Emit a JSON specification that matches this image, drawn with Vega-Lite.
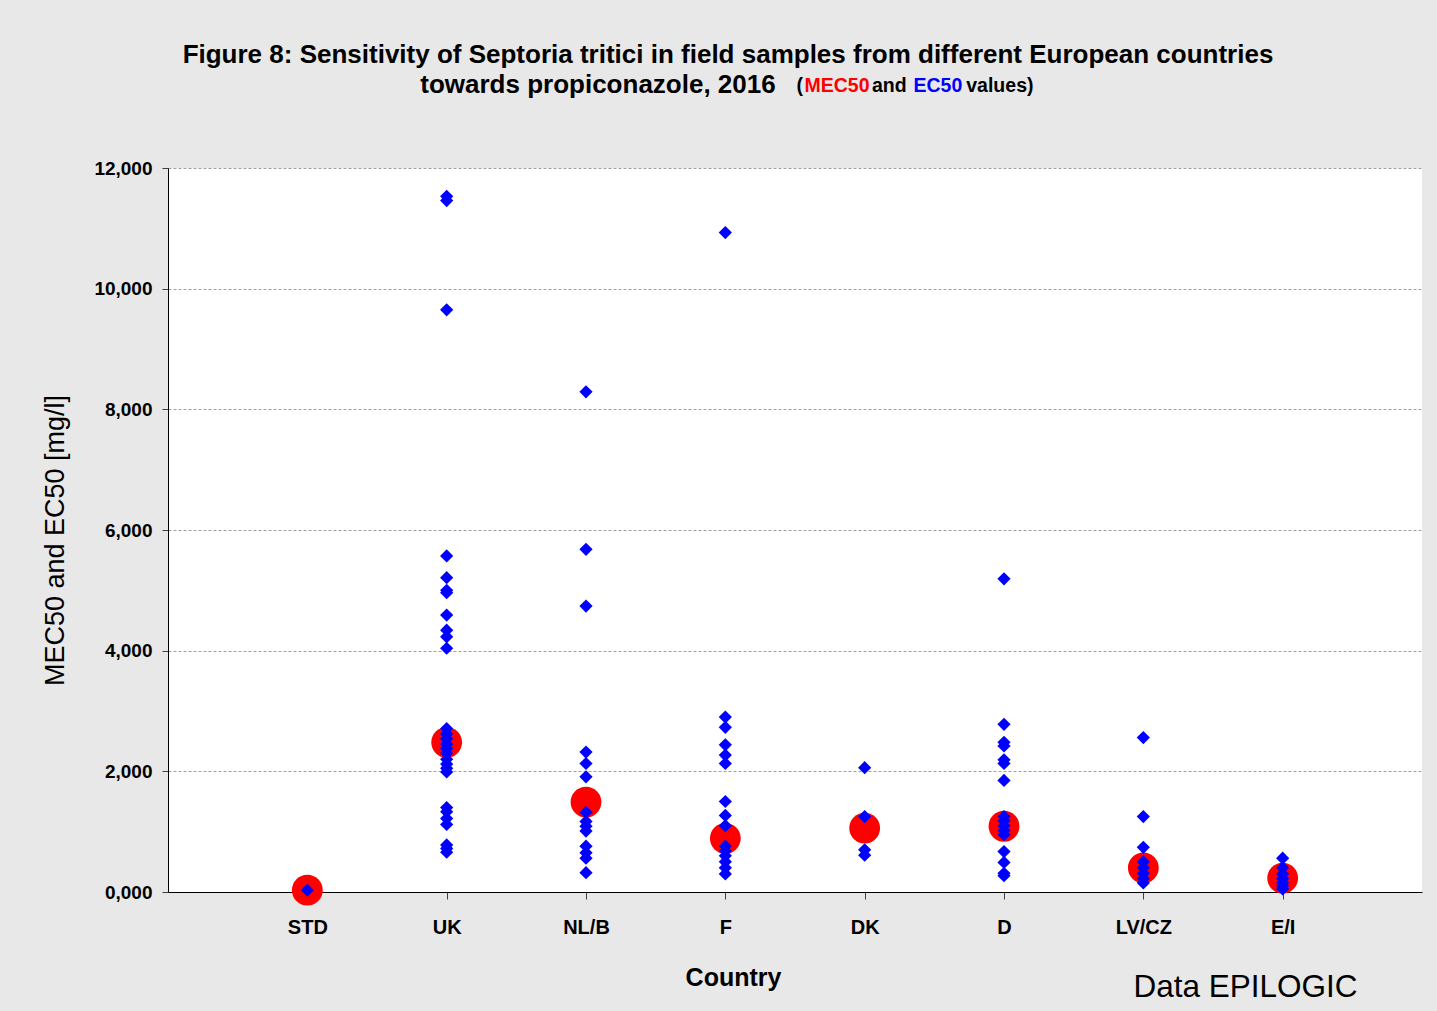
{
  "$schema": "https://vega.github.io/schema/vega-lite/v6.json",
  "width": 1254,
  "height": 724,
  "autosize": {"type": "none"},
  "padding": {"left": 168, "top": 168, "right": 15, "bottom": 119},
  "background": "#e8e8e8",
  "config": {"view": {"fill": "white", "stroke": null}, "font": "Liberation Sans"},
  "title": {
    "text": ["Figure 8: Sensitivity of Septoria tritici in field samples from different European countries", "towards propiconazole, 2016\u00a0\u00a0\u00a0\u00a0\u00a0\u00a0\u00a0\u00a0\u00a0\u00a0\u00a0\u00a0\u00a0\u00a0\u00a0\u00a0\u00a0\u00a0\u00a0\u00a0\u00a0\u00a0\u00a0\u00a0\u00a0\u00a0\u00a0\u00a0\u00a0\u00a0\u00a0\u00a0\u00a0\u00a0\u00a0\u00a0\u200b"],
    "font": "Liberation Sans",
    "fontSize": 26,
    "fontWeight": "bold",
    "color": "black",
    "anchor": "middle",
    "frame": "group",
    "dx": -67,
    "offset": -22,
    "lineHeight": 30
  },
  "data": {
    "values": [
      {"country": "STD", "measure": "MEC50", "value": 0.03},
      {"country": "UK", "measure": "MEC50", "value": 2.48},
      {"country": "NL/B", "measure": "MEC50", "value": 1.49},
      {"country": "F", "measure": "MEC50", "value": 0.89},
      {"country": "DK", "measure": "MEC50", "value": 1.06},
      {"country": "D", "measure": "MEC50", "value": 1.09},
      {"country": "LV/CZ", "measure": "MEC50", "value": 0.40},
      {"country": "E/I", "measure": "MEC50", "value": 0.23},
      {"country": "STD", "measure": "EC50", "value": 0.03},
      {"country": "UK", "measure": "EC50", "value": 11.53},
      {"country": "UK", "measure": "EC50", "value": 11.46},
      {"country": "UK", "measure": "EC50", "value": 9.65},
      {"country": "UK", "measure": "EC50", "value": 5.57},
      {"country": "UK", "measure": "EC50", "value": 5.21},
      {"country": "UK", "measure": "EC50", "value": 5.00},
      {"country": "UK", "measure": "EC50", "value": 4.96},
      {"country": "UK", "measure": "EC50", "value": 4.59},
      {"country": "UK", "measure": "EC50", "value": 4.34},
      {"country": "UK", "measure": "EC50", "value": 4.23},
      {"country": "UK", "measure": "EC50", "value": 4.04},
      {"country": "UK", "measure": "EC50", "value": 2.71},
      {"country": "UK", "measure": "EC50", "value": 2.62},
      {"country": "UK", "measure": "EC50", "value": 2.54},
      {"country": "UK", "measure": "EC50", "value": 2.45},
      {"country": "UK", "measure": "EC50", "value": 2.38},
      {"country": "UK", "measure": "EC50", "value": 2.30},
      {"country": "UK", "measure": "EC50", "value": 2.20},
      {"country": "UK", "measure": "EC50", "value": 2.12},
      {"country": "UK", "measure": "EC50", "value": 2.05},
      {"country": "UK", "measure": "EC50", "value": 1.99},
      {"country": "UK", "measure": "EC50", "value": 1.40},
      {"country": "UK", "measure": "EC50", "value": 1.33},
      {"country": "UK", "measure": "EC50", "value": 1.22},
      {"country": "UK", "measure": "EC50", "value": 1.12},
      {"country": "UK", "measure": "EC50", "value": 0.78},
      {"country": "UK", "measure": "EC50", "value": 0.72},
      {"country": "UK", "measure": "EC50", "value": 0.66},
      {"country": "NL/B", "measure": "EC50", "value": 8.29},
      {"country": "NL/B", "measure": "EC50", "value": 5.68},
      {"country": "NL/B", "measure": "EC50", "value": 4.74},
      {"country": "NL/B", "measure": "EC50", "value": 2.32},
      {"country": "NL/B", "measure": "EC50", "value": 2.13},
      {"country": "NL/B", "measure": "EC50", "value": 1.91},
      {"country": "NL/B", "measure": "EC50", "value": 1.32},
      {"country": "NL/B", "measure": "EC50", "value": 1.17},
      {"country": "NL/B", "measure": "EC50", "value": 1.09},
      {"country": "NL/B", "measure": "EC50", "value": 1.01},
      {"country": "NL/B", "measure": "EC50", "value": 0.76},
      {"country": "NL/B", "measure": "EC50", "value": 0.65},
      {"country": "NL/B", "measure": "EC50", "value": 0.56},
      {"country": "NL/B", "measure": "EC50", "value": 0.32},
      {"country": "F", "measure": "EC50", "value": 10.93},
      {"country": "F", "measure": "EC50", "value": 2.90},
      {"country": "F", "measure": "EC50", "value": 2.73},
      {"country": "F", "measure": "EC50", "value": 2.44},
      {"country": "F", "measure": "EC50", "value": 2.27},
      {"country": "F", "measure": "EC50", "value": 2.13},
      {"country": "F", "measure": "EC50", "value": 1.50},
      {"country": "F", "measure": "EC50", "value": 1.27},
      {"country": "F", "measure": "EC50", "value": 1.10},
      {"country": "F", "measure": "EC50", "value": 0.76},
      {"country": "F", "measure": "EC50", "value": 0.68},
      {"country": "F", "measure": "EC50", "value": 0.60},
      {"country": "F", "measure": "EC50", "value": 0.50},
      {"country": "F", "measure": "EC50", "value": 0.40},
      {"country": "F", "measure": "EC50", "value": 0.30},
      {"country": "DK", "measure": "EC50", "value": 2.06},
      {"country": "DK", "measure": "EC50", "value": 1.25},
      {"country": "DK", "measure": "EC50", "value": 0.70},
      {"country": "DK", "measure": "EC50", "value": 0.61},
      {"country": "D", "measure": "EC50", "value": 5.19},
      {"country": "D", "measure": "EC50", "value": 2.78},
      {"country": "D", "measure": "EC50", "value": 2.48},
      {"country": "D", "measure": "EC50", "value": 2.42},
      {"country": "D", "measure": "EC50", "value": 2.19},
      {"country": "D", "measure": "EC50", "value": 2.13},
      {"country": "D", "measure": "EC50", "value": 1.85},
      {"country": "D", "measure": "EC50", "value": 1.25},
      {"country": "D", "measure": "EC50", "value": 1.18},
      {"country": "D", "measure": "EC50", "value": 1.10},
      {"country": "D", "measure": "EC50", "value": 1.02},
      {"country": "D", "measure": "EC50", "value": 0.95},
      {"country": "D", "measure": "EC50", "value": 0.67},
      {"country": "D", "measure": "EC50", "value": 0.49},
      {"country": "D", "measure": "EC50", "value": 0.31},
      {"country": "D", "measure": "EC50", "value": 0.27},
      {"country": "LV/CZ", "measure": "EC50", "value": 2.56},
      {"country": "LV/CZ", "measure": "EC50", "value": 1.25},
      {"country": "LV/CZ", "measure": "EC50", "value": 0.74},
      {"country": "LV/CZ", "measure": "EC50", "value": 0.50},
      {"country": "LV/CZ", "measure": "EC50", "value": 0.40},
      {"country": "LV/CZ", "measure": "EC50", "value": 0.31},
      {"country": "LV/CZ", "measure": "EC50", "value": 0.22},
      {"country": "LV/CZ", "measure": "EC50", "value": 0.15},
      {"country": "E/I", "measure": "EC50", "value": 0.56},
      {"country": "E/I", "measure": "EC50", "value": 0.40},
      {"country": "E/I", "measure": "EC50", "value": 0.30},
      {"country": "E/I", "measure": "EC50", "value": 0.22},
      {"country": "E/I", "measure": "EC50", "value": 0.15},
      {"country": "E/I", "measure": "EC50", "value": 0.10},
      {"country": "E/I", "measure": "EC50", "value": 0.05}
    ]
  },
  "layer": [
    {
      "transform": [{"filter": "datum.measure === 'MEC50'"}],
      "mark": {"type": "point", "filled": true, "size": 950, "opacity": 1, "strokeWidth": 0},
      "encoding": {
        "x": {
          "field": "country", "type": "nominal",
          "scale": {"type": "point", "padding": 1, "domain": ["STD", "UK", "NL/B", "F", "DK", "D", "LV/CZ", "E/I"]},
          "axis": {
            "orient": "bottom",
            "title": "Country", "titleFont": "Liberation Sans", "titleFontSize": 25, "titleFontWeight": "bold", "titleColor": "black",
            "titleX": 565, "titleY": 93, "titleBaseline": "alphabetic", "titleAlign": "center",
            "labelFont": "Liberation Sans", "labelFontSize": 20, "labelFontWeight": "bold", "labelColor": "black", "labelAngle": 0,
            "labelBaseline": "alphabetic", "labelPadding": 34,
            "tickSize": 7, "tickColor": "#404040", "domainColor": "black", "domainWidth": 1, "grid": false
          }
        },
        "y": {
          "field": "value", "type": "quantitative",
          "scale": {"domain": [0, 12], "nice": false},
          "axis": {
            "orient": "left",
            "values": [0, 2, 4, 6, 8, 10, 12],
            "labelExpr": "replace(format(datum.value, '.3f'), '.', ',')",
            "title": "MEC50 and EC50 [mg/l]", "titleFont": "Liberation Sans", "titleFontSize": 27, "titleFontWeight": "normal", "titleColor": "black",
            "titleX": -105, "titleY": 372, "titleAngle": -90, "titleBaseline": "alphabetic", "titleAlign": "center",
            "labelFont": "Liberation Sans", "labelFontSize": 19, "labelFontWeight": "bold", "labelColor": "black", "labelPadding": 10,
            "tickSize": 6, "tickColor": "#404040", "domainColor": "black",
            "grid": true, "gridColor": "#a0a0a0", "gridDash": [3, 2], "gridWidth": 1
          }
        },
        "color": {
          "field": "measure", "type": "nominal",
          "scale": {"domain": ["MEC50", "EC50"], "range": ["#ff0000", "#0000ff"]},
          "legend": {
            "orient": "none", "legendX": 617, "legendY": -92, "direction": "horizontal", "title": null,
            "padding": 0, "symbolSize": 0, "symbolOpacity": 0, "symbolStrokeWidth": 0, "labelOffset": 0, "labelLimit": 0,
            "columnPadding": 24, "labelFont": "Liberation Sans", "labelFontSize": 19.5, "labelFontWeight": "bold",
            "encode": {"labels": {"update": {"fill": {"signal": "datum.value === 'MEC50' ? '#ff0000' : '#0000ff'"}}}}
          }
        },
        "shape": {
          "field": "measure", "type": "nominal",
          "scale": {"domain": ["EC50", "MEC50"], "range": ["diamond", "circle"]},
          "legend": {
            "orient": "none", "legendX": 609, "legendY": -92, "direction": "horizontal", "title": null,
            "padding": 0, "symbolSize": 0, "symbolOpacity": 0, "symbolStrokeWidth": 0, "labelOffset": 0, "labelLimit": 0,
            "columnPadding": 49.5, "labelFont": "Liberation Sans", "labelFontSize": 19.5, "labelFontWeight": "bold", "labelColor": "black",
            "labelExpr": "datum.value === 'EC50' ? '(' : 'and\u00a0\u00a0\u00a0\u00a0\u00a0\u00a0\u00a0\u00a0\u00a0\u00a0\u00a0values)'"
          }
        }
      }
    },
    {
      "transform": [{"filter": "datum.measure === 'EC50'"}],
      "mark": {"type": "point", "filled": true, "size": 175, "opacity": 1, "strokeWidth": 0},
      "encoding": {
        "x": {
          "field": "country", "type": "nominal",
          "axis": {
            "orient": "bottom",
            "title": "Data EPILOGIC", "titleFont": "Liberation Sans", "titleFontSize": 31.5, "titleFontWeight": "normal", "titleColor": "black",
            "titleX": 1077, "titleY": 104, "titleBaseline": "alphabetic", "titleAlign": "center",
            "labels": false, "ticks": false, "domain": false, "grid": false
          }
        },
        "y": {"field": "value", "type": "quantitative"},
        "color": {"field": "measure", "type": "nominal"},
        "shape": {"field": "measure", "type": "nominal"}
      }
    }
  ],
  "resolve": {"axis": {"x": "independent"}}
}
